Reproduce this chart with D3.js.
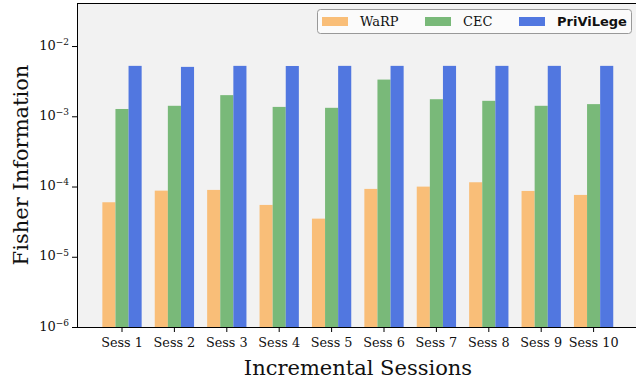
<!DOCTYPE html>
<html><head><meta charset="utf-8">
<script src="https://cdn.jsdelivr.net/npm/d3@7"></script>
<style>
html,body{margin:0;padding:0;background:#fff;}
svg{display:block;}
</style></head>
<body>
<script>
const categories = ["Sess 1","Sess 2","Sess 3","Sess 4","Sess 5","Sess 6","Sess 7","Sess 8","Sess 9","Sess 10"];
const seriesNames = ["WaRP","CEC","PriViLege"];
const warp = [5.97e-5, 8.74e-5, 8.95e-5, 5.47e-5, 3.49e-5, 9.25e-5, 9.97e-5, 1.15e-4, 8.65e-5, 7.59e-5];
const cec = [1.27e-3, 1.41e-3, 2.0e-3, 1.36e-3, 1.32e-3, 3.33e-3, 1.75e-3, 1.66e-3, 1.41e-3, 1.49e-3];
const privilege = [5.22e-3, 5.05e-3, 5.22e-3, 5.2e-3, 5.22e-3, 5.22e-3, 5.22e-3, 5.22e-3, 5.22e-3, 5.22e-3];
const yTicks = [1e-6, 1e-5, 1e-4, 1e-3, 1e-2];
const colors = ["#f9be78", "#79b979", "#5177e0"];

const W = 636, H = 381;
const svg = d3.select("body").append("svg").attr("width", W).attr("height", H);
const mLeft = 77, mTop = 3, mBottom = 327;

svg.append("rect").attr("x", mLeft).attr("y", mTop).attr("width", W - mLeft).attr("height", mBottom - mTop).attr("fill", "#f2f2f2");

const x0 = d3.scaleBand().domain(categories).range([95.8, 619.8]).paddingInner(0.25).paddingOuter(0.125);
const x1 = d3.scaleBand().domain(seriesNames).range([0, x0.bandwidth()]);
const y = d3.scaleLog().domain([1e-6, 0.041]).range([mBottom, mTop]);

const data = [warp, cec, privilege];
seriesNames.forEach((s, si) => {
  svg.append("g").selectAll("rect").data(categories).join("rect")
    .attr("x", c => x0(c) + x1(s))
    .attr("width", x1.bandwidth())
    .attr("y", (c, i) => y(data[si][i]))
    .attr("height", (c, i) => mBottom - y(data[si][i]))
    .attr("fill", colors[si]);
});

// spines
svg.append("line").attr("x1", mLeft).attr("x2", W).attr("y1", mTop + 0.5).attr("y2", mTop + 0.5).attr("stroke", "#000").attr("stroke-width", 1);

const xAxis = svg.append("g").attr("transform", `translate(0,${mBottom})`)
  .call(d3.axisBottom(x0).tickSize(5).tickPadding(6).tickSizeOuter(0));
xAxis.select(".domain").attr("d", `M${mLeft},0.5H${W}`);
xAxis.selectAll("text").attr("font-family", "DejaVu Serif").attr("font-size", "12.8px").attr("fill", "#111");

const yAxis = svg.append("g").attr("transform", `translate(${mLeft},0)`)
  .call(d3.axisLeft(y).tickValues(yTicks).tickSize(5).tickPadding(4).tickFormat(() => "").tickSizeOuter(0));
yAxis.select(".domain").attr("d", `M0.5,${mTop}V${mBottom}`);
yAxis.selectAll(".tick").each(function(d) {
  const t = d3.select(this).append("text").attr("x", -8).attr("dy", "0.32em")
    .attr("text-anchor", "end").attr("font-family", "DejaVu Serif").attr("fill", "#111");
  t.append("tspan").attr("font-size", "13px").text("10");
  t.append("tspan").attr("font-size", "9px").attr("dy", "-0.55em").text("\u2212" + Math.round(-Math.log10(d)));
});

svg.append("text").attr("x", 358).attr("y", 375).attr("text-anchor", "middle")
  .attr("font-family", "DejaVu Serif").attr("font-size", "21px").attr("fill", "#111").text("Incremental Sessions");
svg.append("text").attr("transform", `translate(28,165) rotate(-90)`).attr("text-anchor", "middle")
  .attr("font-family", "DejaVu Serif").attr("font-size", "21px").attr("fill", "#111").text("Fisher Information");

// legend
const lg = svg.append("g");
lg.append("rect").attr("x", 317.5).attr("y", 9.5).attr("width", 314).attr("height", 24).attr("rx", 3)
  .attr("fill", "#fbfbfb").attr("stroke", "#999").attr("stroke-width", 1);
const lx = [322, 425, 519];
const tx = [360, 463, 557];
seriesNames.forEach((s, i) => {
  lg.append("rect").attr("x", lx[i]).attr("y", 17).attr("width", 26).attr("height", 9).attr("fill", colors[i]);
  lg.append("text").attr("x", tx[i]).attr("y", 26)
    .attr("font-family", i === 2 ? "DejaVu Sans" : "DejaVu Serif")
    .attr("font-weight", i === 2 ? "bold" : "normal")
    .attr("font-size", "13px").attr("fill", "#111").text(s);
});
</script>
</body></html>
